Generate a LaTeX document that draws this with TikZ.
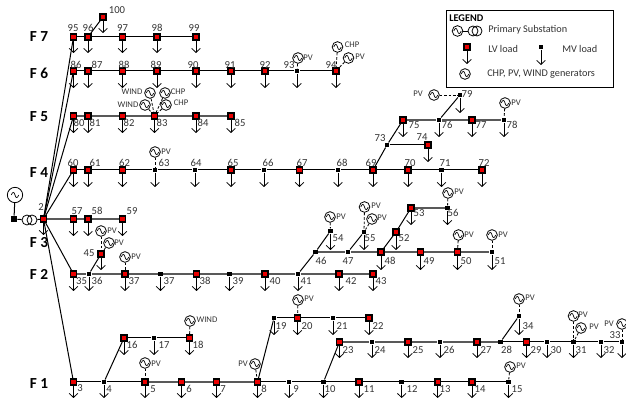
\documentclass[tikz,border=0pt]{standalone}
\usepackage{fontspec}
\setmainfont{Carlito}
\usetikzlibrary{arrows.meta}
\definecolor{busred}{RGB}{235,0,0}
\definecolor{txt}{gray}{0.2}
\tikzset{
  lvbus/.style={draw=black,fill=busred,line width=1.1pt,minimum size=4.3pt,inner sep=0pt,shape=rectangle},
  mvbus/.style={fill=black,minimum size=3.4pt,inner sep=0pt,shape=rectangle},
  src/.style={fill=black,minimum size=4.6pt,inner sep=0pt,shape=rectangle},
  line/.style={line width=0.75pt,black},
  gline/.style={line width=0.95pt,black!65},
  load/.style={line width=0.6pt,black,-{Straight Barb[length=3pt,width=6.4pt]}},
  gen/.style={circle,draw=black,fill=white,line width=0.6pt,minimum size=8pt,inner sep=0pt,
    path picture={\draw[line width=.5pt,shift={(path picture bounding box.center)}]
      (-2.8pt,0) .. controls (-1.7pt,2.6pt) and (-0.7pt,2.6pt) .. (0,0)
      .. controls (0.7pt,-2.6pt) and (1.7pt,-2.6pt) .. (2.8pt,0);}},
  trafo/.style={circle,draw=black,line width=0.6pt,minimum size=7.5pt,inner sep=0pt},
  genlink/.style={line width=0.6pt,dashed,dash pattern=on 2pt off 1.3pt,black},
  buslab/.style={font=\fontsize{8}{9}\selectfont,text=txt,inner sep=0pt},
  genlab/.style={font=\fontsize{6.5}{7}\selectfont,text=txt,inner sep=0pt},
  feeder/.style={font=\fontsize{11.5}{13}\selectfont\bfseries,black,inner sep=0pt},
  legtxt/.style={font=\fontsize{7.7}{9}\selectfont,text=txt,inner sep=0pt,anchor=west},
  legbox/.style={draw=black,line width=0.7pt,fill=white,minimum width=125pt,minimum height=57.7pt,inner sep=0pt,shape=rectangle}
}
\begin{document}
\begin{tikzpicture}[x=0.75pt,y=-0.75pt]
\useasboundingbox (0,0) rectangle (626,398);
\clip (0,0) rectangle (626,398);
% --- LV buses: id/x/y/labelx/labely/text
\foreach \n/\x/\y/\lx/\ly/\t in {
 95/73.5/37/73/28/95, 96/88/37/88/28/96, 97/122.5/37/122.5/28/97, 98/157/37/157/28/98, 99/196/37/194/28/99,
 100/103/17/117/10/100,
 86/73.5/71/76/65/86, 87/88/71/97/65/87, 88/122.5/71/124/65/88, 89/157/71/156/65/89, 90/196/71/193/65/90,
 91/231/71/230/65/91, 92/265/71/265/65/92, 94/336/71/331/65/94,
 80/73.5/116/79/123/80, 81/88/116/95/123/81, 82/122.5/116/129/123/82, 83/154.5/116/162/123/83, 84/196/116/203/123/84, 85/231/116/240/123/85,
 60/73.5/170/73/163/60, 61/88/170/95/163/61, 62/122.5/170/124.5/163/62, 65/231/170/233/163/65, 67/299.5/170/302/163/67, 69/373/170/371/163/69, 70/408/170/410/163/70, 72/482/170/484/163/72,
 74/428/145/422/137/74, 75/403/120/414/125/75, 77/472/120/481/125/77,
 2/43.5/219/41/207/2, 57/73.5/219/77/211/57, 58/88/219/97/211/58, 59/122.5/219/132/211/59,
 35/73.5/274/81.5/281/35, 37/125/274/134/281/37, 38/196.5/274/205/281/38, 40/265/274/275/281/40, 42/339/274/351/281/42, 43/373/274/381/281/43,
 45/101/254/89/253/45,
 48/381/252/390/261/48, 49/420.5/252/429/261/49, 50/457.5/252/466/261/50, 52/396/232/404/238/52, 53/411/208/419/213/53,
 3/73.5/382/80/388/3, 5/145/382/153/389/5, 6/181.5/382/189/389/6, 7/216.5/382/223/389/7, 8/257.5/382/264/389/8, 11/359/382/369/389/11, 13/437.7/382/445/389/13, 14/472/382/480/389/14,
 16/124/338/132/345/16, 18/189.5/338/198/345/18,
 20/297.5/318/307/326/20, 22/369/318/378/326/22,
 23/339.5/342/348/350/23, 25/408/342/418/350/25, 27/477/342/486/350/27, 29/526.5/342/536/350/29
}{
 \node[lvbus] (b\n) at (\x,\y) {};
 \node[buslab] (t\n) at (\lx,\ly) {\t};
}
% --- MV buses
\foreach \n/\x/\y/\lx/\ly/\t in {
 93/297/71/289/65/93,
 63/155/170/164/163/63, 64/195/170/196/163/64, 66/264/170/268/163/66, 68/338/170/342/163/68, 71/441.5/170/445/163/71,
 73/387/145/380/138/73, 76/439/120/447/125/76, 78/504/120/512/125/78, 79/460/95/467/94/79,
 136/89/274/97/281/36, 137/160.5/274/169/281/37, 39/229.5/274/238/281/39, 41/298/274/306/281/41,
 46/315.5/252/321/261/46, 47/348/252/348/261/47, 51/492/252/500/261/51,
 54/330.5/231/338/238/54, 55/364/232/370/238/55, 56/447.5/208/453/213/56,
 4/104/382/109/389/4, 9/289/382/296/389/9, 10/323.5/382/330/389/10, 12/401.7/382/412/389/12, 15/508.5/382/517/389/15,
 17/154/338/164/345/17, 19/274/318/281/326/19, 21/333/318/342/326/21,
 124/372/342/380/350/24, 26/440/342/449/350/26, 28/500.5/342/506.5/350/28, 30/547/342/556/350/30, 31/573.5/342/581/350/31, 32/601/342/609/350/32, 33/622/342/615/335/33,
 34/519/316/528/326/34
}{
 \node[mvbus] (b\n) at (\x,\y) {};
 \node[buslab] (t\n) at (\lx,\ly) {\t};
}
% --- substation
\node[gen,minimum size=11.5pt] (srcgen) at (15,195) {};
\node[src] (srcbus) at (14,219) {};
\node[trafo] (tr1) at (27,220) {};
\node[trafo] (tr2) at (32,220) {};
\draw[line] (srcgen) -- (srcbus);
\draw[line] (srcbus) -- (tr1);
\draw[line] (tr2) -- (b2);
% --- feeders from bus 2
\foreach \e in {95,86,80,60,35,3}{\draw[line] (b2) -- (b\e);}
% --- black lines
\foreach \a/\b in {95/96,96/97,97/98,98/99,96/100,
 86/87,87/88,88/89,89/90,90/91,91/92,92/93,93/94,
 60/61,61/62,62/63,63/64,64/65,65/66,66/67,67/68,68/69,69/70,70/71,71/72,
 69/73,73/74,73/75,76/79,
 136/45,41/46,46/54,47/55,48/52,52/53,
 3/4,4/16,16/17,17/18,8/19,19/20,20/21,21/22,10/23,
 4/5,8/9,9/10,10/11,11/12,12/13,13/14,14/15,
 28/29,29/30,30/31,31/32,32/33,28/34}{
 \draw[line] (b\a) -- (b\b);
}
% --- lighter (thicker grey) lines
\foreach \a/\b in {80/81,81/82,82/83,83/84,84/85,
 75/76,76/77,77/78,
 2/57,57/58,58/59,53/56,
 35/136,136/37,37/137,137/38,38/39,39/40,40/41,41/42,42/43,
 46/47,47/48,48/49,49/50,50/51,
 5/6,6/7,7/8,
 23/124,124/25,25/26,26/27,27/28}{
 \draw[gline] (b\a) -- (b\b);
}
% --- loads: bus/length
\foreach \n/\l in {
 95/16,96/16,97/16,98/16,99/16,100/16,
 86/17,87/17,88/17,89/17,90/17,91/17,92/17,93/17,94/17,
 80/17,81/17,82/17,83/17,84/17,85/17,
 60/17,61/17,62/17,63/17,64/17,65/17,66/17,67/17,68/17,69/17,70/17,71/17,72/17,
 74/17,75/17,76/17,77/17,78/17,79/18,
 2/16,57/17,58/17,59/17,
 35/17,136/17,37/17,137/17,38/17,39/17,40/17,41/17,42/17,43/17,45/16,
 48/18,49/18,50/18,51/18,52/18,53/17,54/19,55/18,56/17,
 3/16,4/16,5/16,6/16,7/16,8/16,9/16,10/16,11/16,12/16,13/16,14/16,15/16,
 16/17,17/17,18/17,19/17,20/17,21/17,22/17,
 23/16,124/16,25/16,26/16,27/16,29/16,30/16,31/16,32/16,33/16,34/19
}{
 \path (b\n.center) ++(0,\l) coordinate (e\n);
 \draw[load] (b\n) -- (e\n);
}
% --- generators: id/x/y/bus/labelx/labely/text
\foreach \g/\x/\y/\b/\lx/\ly/\t in {
 a/150/93/83/132/92/WIND, b/165/93/83/178/92/CHP, c/145/105/83/128/105/WIND, d/166/105/83/181/103/CHP,
 e/298/58/93/308/58/PV, f/337.5/47/94/352/45/CHP, g/348.5/58/94/360/57/PV,
 h/155/152/63/166/152/PV,
 i/434/95/79/418/94/PV, j/505/103/78/516/103/PV,
 k/101/231/45/112/231/PV, l/109/243/45/119/243/PV, m/125/257/37/136/257/PV,
 n/330/217/54/341/217/PV, o/364.5/207/55/376/206/PV, p/372/219/55/382/218/PV,
 q/448/193/56/459/192/PV, r/458.5/235/50/469/235/PV, s/492/235/51/503/235/PV,
 t/145/363/5/156/364/PV, u/510/367/15/521/366/PV, v/255/364/8/243/364/PV,
 w/190/321/18/207/320/WIND, x/298/300/20/309/299/PV,
 y/519/299/34/530/298/PV, z/573.5/316/31/583/315/PV, A/581/328/31/594/327/PV, B/622/324/33/609/324/PV
}{
 \node[gen] (g\g) at (\x,\y) {};
 \node[genlab] (lg\g) at (\lx,\ly) {\t};
 \draw[genlink] (g\g) -- (b\b);
}
% --- feeder names
\foreach \i/\y in {7/37,6/73,5/117,4/173,3/243,2/274,1/384}{
 \node[feeder] (F\i) at (39,\y) {F \i};
}
% --- legend
\node[legbox,anchor=north west] (leg) at (446,10) {};
\node[legtxt,font=\fontsize{7.7}{9}\selectfont\bfseries,text=black] (legt) at (449,18.5) {LEGEND};
\node[gen] (lg1) at (457.5,31) {};
\node[trafo] (lt1) at (473,31) {};
\node[trafo] (lt2) at (477,31) {};
\draw[line width=0.6pt] (lg1) -- (lt1);
\node[legtxt] (l1) at (488,30) {Primary Substation};
\node[lvbus] (llv) at (467,47) {};
\coordinate (llve) at (467,64);
\draw[load] (llv) -- (llve);
\node[legtxt] (l2) at (488,49) {LV load};
\node[mvbus] (lmv) at (541,47) {};
\coordinate (lmve) at (541,65);
\draw[load] (lmv) -- (lmve);
\node[legtxt] (l3) at (562,49) {MV load};
\node[gen] (lg2) at (465,74) {};
\node[legtxt] (l4) at (487,74) {CHP, PV, WIND generators};
\end{tikzpicture}
\end{document}
